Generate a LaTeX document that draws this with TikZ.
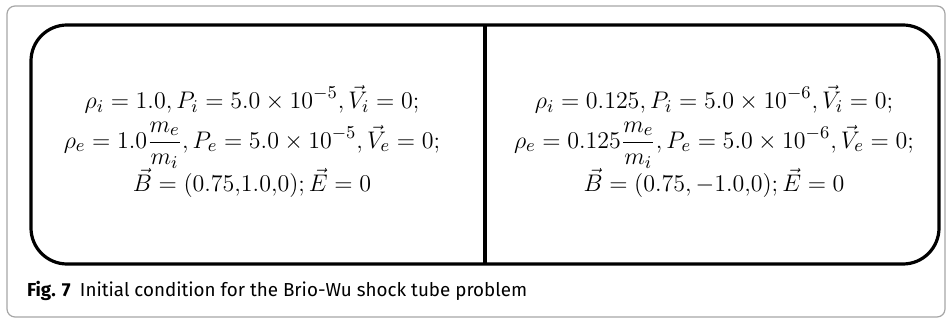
\documentclass[tikz,border=0pt]{standalone}
\usepackage{amsmath}
\usepackage{fontspec}
\setsansfont{Fira Sans}
\usepackage{tikz}

\begin{document}
\begin{tikzpicture}[x=0.5pt, y=-0.5pt,
    every node/.style={font=\small},
    outer/.style={draw=gray!70, rounded corners=4pt, line width=0.6pt},
    panel/.style={draw, line width=1.6pt, rounded corners=18pt},
    eqs/.style={align=center, inner sep=0pt, font=\fontsize{12.2}{15}\selectfont},
    caption/.style={anchor=west, font=\sffamily\fontsize{9.4}{11}\selectfont}
]
\useasboundingbox (0,0) rectangle (952,320);

\draw[outer] (7,6) rectangle (945,317);
\draw[panel] (31,25) rectangle (939,264);
\draw[line width=1.6pt] (485,25) -- (485,264);

\node[eqs] (left) at (252,143)
{$\begin{gathered}
\rho_i = 1.0, P_i = 5.0\times 10^{-5}, \vec{V}_i = 0;\\[-2pt]
\rho_e = 1.0\frac{m_e}{m_i}, P_e = 5.0\times 10^{-5}, \vec{V}_e = 0;\\[-4pt]
\vec{B} = (0.75{,}1.0{,}0); \vec{E} = 0
\end{gathered}$};

\node[eqs] (right) at (714,143)
{$\begin{gathered}
\rho_i = 0.125, P_i = 5.0\times 10^{-6}, \vec{V}_i = 0;\\[-2pt]
\rho_e = 0.125\frac{m_e}{m_i}, P_e = 5.0\times 10^{-6}, \vec{V}_e = 0;\\[-4pt]
\vec{B} = (0.75, -1.0{,}0); \vec{E} = 0
\end{gathered}$};

\node[caption] (cap) at (20,291)
{\textbf{Fig. 7}\enspace Initial condition for the Brio-Wu shock tube problem};

\end{tikzpicture}
\end{document}
